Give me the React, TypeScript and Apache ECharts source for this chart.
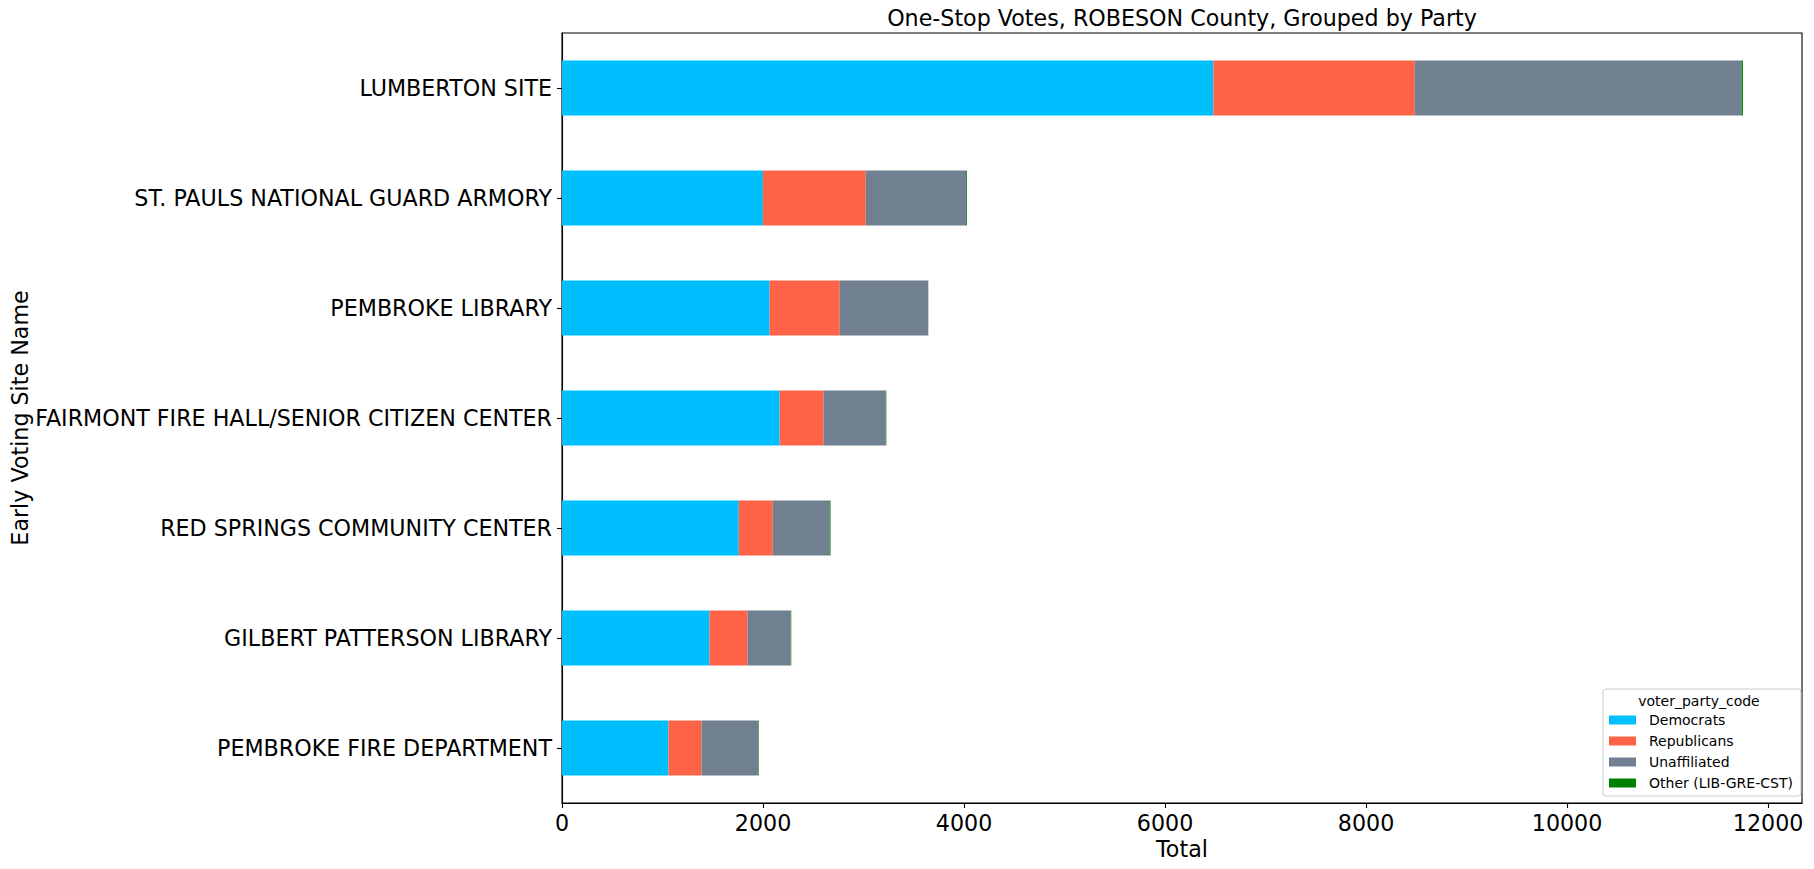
import React, { useEffect, useRef } from "react";
import * as echarts from "echarts";

const categories = [
  "LUMBERTON SITE",
  "ST. PAULS NATIONAL GUARD ARMORY",
  "PEMBROKE LIBRARY",
  "FAIRMONT FIRE HALL/SENIOR CITIZEN CENTER",
  "RED SPRINGS COMMUNITY CENTER",
  "GILBERT PATTERSON LIBRARY",
  "PEMBROKE FIRE DEPARTMENT",
];
const democrats = [6481, 1999, 2066, 2165, 1759, 1468, 1060];
const republicans = [2004, 1023, 698, 438, 338, 378, 328];
const unaffiliated = [3250, 999, 877, 618, 568, 429, 563];
const other = [15, 8, 3, 6, 7, 6, 6];
const xTicks = [0, 2000, 4000, 6000, 8000, 10000, 12000];

const seriesNames = ["Democrats", "Republicans", "Unaffiliated", "Other (LIB-GRE-CST)"];
const seriesColors = ["#00BFFF", "#FF6347", "#708090", "#008000"];

const FONT = "DejaVu Sans";
const FS = 22.2;

export default function App() {
  const ref = useRef<HTMLDivElement>(null);
  useEffect(() => {
    document.body.style.margin = "0";
    const chart = echarts.init(ref.current!, null, { renderer: "svg" });
    const totals = categories.map(
      (_, i) => democrats[i] + republicans[i] + unaffiliated[i] + other[i]
    );
    const xMax = Math.max(...totals) * 1.05;
    const gl = 562, gt = 33, gw = 1240, gh = 770;
    const dataSets = [democrats, republicans, unaffiliated, other];
    chart.setOption({
      animation: false,
      textStyle: { fontFamily: FONT },
      grid: {
        left: gl, top: gt, width: gw, height: gh,
        containLabel: false,
        outerBoundsMode: "none",
        show: true, borderColor: "#000", borderWidth: 1.1, backgroundColor: "#fff",
      },
      xAxis: {
        type: "value",
        min: 0,
        max: xMax,
        name: "Total",
        nameLocation: "middle",
        nameGap: 35,
        nameMoveOverlap: false,
        nameTextStyle: { fontSize: FS, color: "#000", fontFamily: FONT },
        splitLine: { show: false },
        axisLine: { show: true, lineStyle: { color: "#000", width: 1.1 } },
        axisTick: { show: true, length: 5, lineStyle: { color: "#000", width: 1.1 }, customValues: xTicks },
        axisLabel: {
          fontSize: FS, color: "#000", margin: 9, fontFamily: FONT, customValues: xTicks,
          formatter: (v: number) => String(Math.round(v)),
        },
      },
      yAxis: {
        type: "category",
        data: categories,
        inverse: true,
        name: "Early Voting Site Name",
        nameLocation: "middle",
        nameGap: 531,
        nameMoveOverlap: false,
        nameTextStyle: { fontSize: FS, color: "#000", fontFamily: FONT },
        axisLine: { show: true, lineStyle: { color: "#000", width: 1.1 } },
        axisTick: { show: true, alignWithLabel: true, length: 5, lineStyle: { color: "#000", width: 1.1 } },
        axisLabel: { fontSize: FS, color: "#000", margin: 10, fontFamily: FONT },
      },
      legend: {
        orient: "vertical",
        left: 1603,
        top: 689,
        padding: [24, 8, 6, 6],
        itemWidth: 27,
        itemHeight: 9,
        itemGap: 7,
        icon: "rect",
        backgroundColor: "rgba(255,255,255,0.8)",
        borderColor: "#cccccc",
        borderWidth: 1,
        borderRadius: 3,
        textStyle: { fontSize: 14, color: "#000", fontFamily: FONT, lineHeight: 14, padding: [0, 0, 0, 8] },
        data: seriesNames,
      },
      graphic: [
        {
          type: "text",
          x: 1182,
          y: 18,
          style: { text: "One-Stop Votes, ROBESON County, Grouped by Party", align: "center", verticalAlign: "middle", fontSize: FS, fontFamily: FONT, fill: "#000" },
        },
        {
          type: "text",
          x: 1699,
          y: 701,
          z: 100,
          style: { text: "voter_party_code", align: "center", verticalAlign: "middle", fontSize: 14, fontFamily: FONT, fill: "#000" },
        },
      ],
      series: dataSets.map((d, k) => ({
        type: "bar",
        name: seriesNames[k],
        stack: "total",
        data: d,
        barWidth: "50%",
        itemStyle: { color: seriesColors[k] },
      })),
    });
    return () => chart.dispose();
  }, []);
  return <div ref={ref} style={{ width: 1814, height: 869 }} />;
}
